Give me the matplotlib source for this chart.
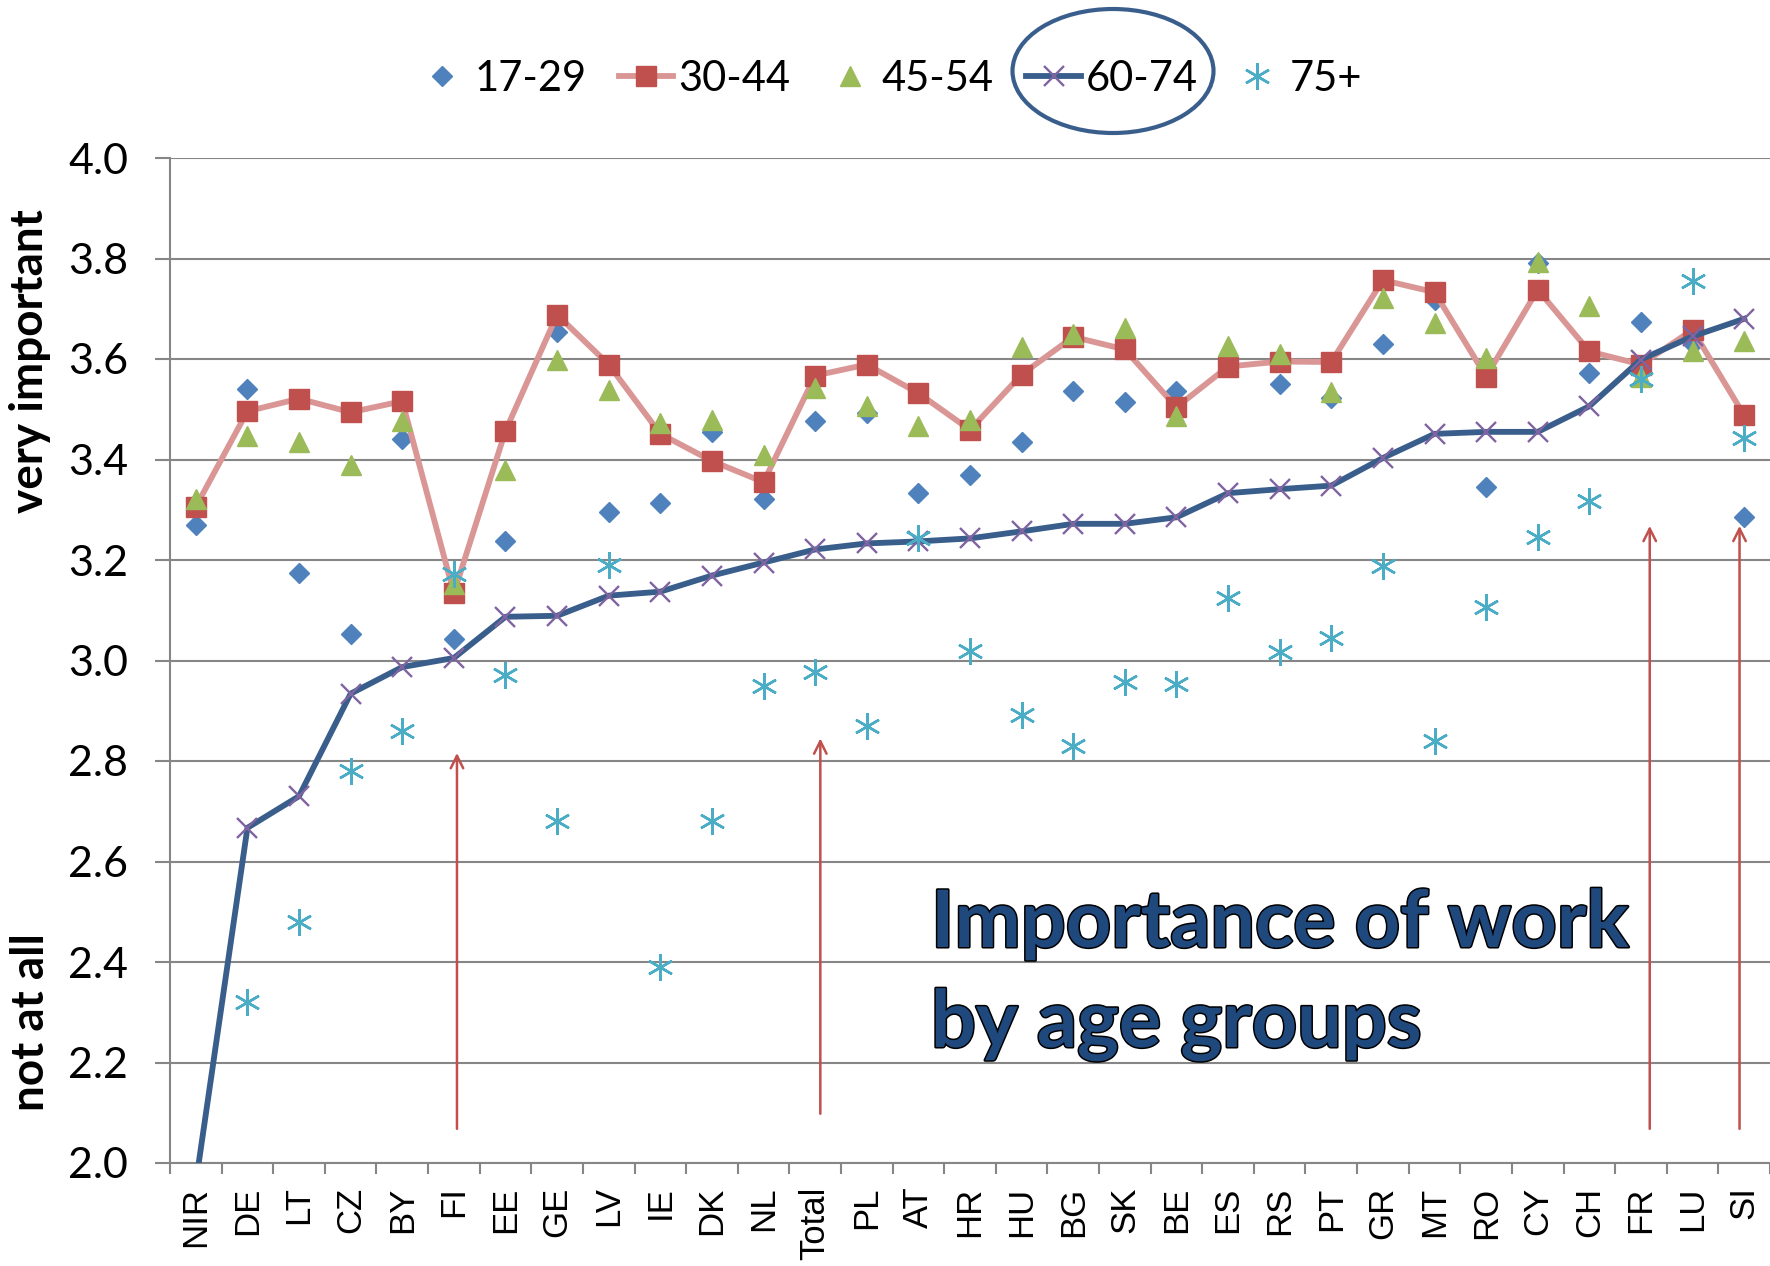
import matplotlib
matplotlib.use('Agg')
import matplotlib.pyplot as plt
import numpy as np
from matplotlib.lines import Line2D
from matplotlib.patches import Ellipse
import matplotlib.patheffects as pe

countries = ['NIR', 'DE', 'LT', 'CZ', 'BY', 'FI', 'EE', 'GE', 'LV', 'IE', 'DK', 'NL',
             'Total', 'PL', 'AT', 'HR', 'HU', 'BG', 'SK', 'BE', 'ES', 'RS', 'PT', 'GR',
             'MT', 'RO', 'CY', 'CH', 'FR', 'LU', 'SI']

age_17_29 = [3.27, 3.54, 3.175, 3.052, 3.441, 3.042, 3.238, 3.653, 3.296, 3.313, 3.455, 3.321,
             3.477, 3.492, 3.334, 3.369, 3.435, 3.537, 3.514, 3.537, 3.585, 3.551, 3.522, 3.629,
             3.718, 3.346, 3.791, 3.572, 3.673, 3.629, 3.286]
age_30_44 = [3.306, 3.496, 3.521, 3.494, 3.516, 3.134, 3.457, 3.688, 3.589, 3.451, 3.397, 3.355,
             3.567, 3.589, 3.532, 3.459, 3.569, 3.644, 3.619, 3.504, 3.585, 3.595, 3.594, 3.757,
             3.733, 3.565, 3.738, 3.615, 3.589, 3.658, 3.488]
age_45_54 = [3.321, 3.446, 3.434, 3.389, 3.476, 3.152, 3.380, 3.599, 3.539, 3.472, 3.479, 3.409,
             3.542, 3.506, 3.467, 3.478, 3.624, 3.649, 3.662, 3.486, 3.625, 3.609, 3.534, 3.722,
             3.672, 3.602, 3.793, 3.706, 3.565, 3.615, 3.635]
age_60_74 = [1.96, 2.667, 2.73, 2.934, 2.987, 3.005, 3.087, 3.089, 3.129, 3.137, 3.169, 3.195,
             3.221, 3.233, 3.237, 3.243, 3.257, 3.272, 3.272, 3.285, 3.333, 3.341, 3.348, 3.403,
             3.451, 3.455, 3.455, 3.506, 3.599, 3.645, 3.680]
age_75_plus = [np.nan, 2.32, 2.48, 2.78, 2.86, 3.173, 2.972, 2.68, 3.19, 2.39, 2.68, 2.949,
               2.977, 2.87, 3.243, 3.019, 2.891, 2.83, 2.958, 2.953, 3.125, 3.017, 3.044, 3.188,
               2.84, 3.106, 3.245, 3.318, 3.560, 3.755, 3.443]

series_labels = ['17-29', '30-44', '45-54', '60-74', '75+']

# annotation arrows: (category, bottom value, top value)
arrow_cats = ['FI', 'Total', 'FR', 'SI']
arrow_bottom = [2.068, 2.098, 2.068, 2.068]
arrow_top = [2.816, 2.845, 3.268, 3.268]
arrow_shift = [0.06, 0.1, 0.17, -0.09]

title_lines = ['Importance of work', 'by age groups']

C_BLUE = '#4F81BD'
C_RED = '#C0504D'
C_RED_LINE = '#D99694'
C_GREEN = '#9BBB59'
C_NAVY = '#3A5E8C'
C_PURPLE = '#8064A2'
C_CYAN = '#4BACC6'
C_GRID = '#868686'
ASTER = (6, 2, 0)
AST_MS = 19

fig = plt.figure(figsize=(17.7, 12.66), dpi=100)
ax = fig.add_axes([170 / 1770, 1 - 1163 / 1266, 1 - 170 / 1770, (1163 - 158) / 1266])

x = np.arange(len(countries))

ax.plot(x, age_17_29, ls='none', marker='D', ms=10.3, color=C_BLUE, mec=C_BLUE, zorder=3)
ax.plot(x, age_30_44, color=C_RED_LINE, lw=4.2, marker='s', ms=14, mfc=C_RED, mec=C_RED,
        solid_joinstyle='round', zorder=4)
ax.plot(x, age_45_54, ls='none', marker='^', ms=14.5, color=C_GREEN, mec=C_GREEN, zorder=5)
ax.plot(x, age_60_74, color=C_NAVY, lw=4.2, marker='x', ms=14, mec=C_PURPLE, mew=1.7,
        solid_joinstyle='round', zorder=6)
ax.plot(x, age_75_plus, ls='none', marker=ASTER, ms=AST_MS, mec=C_CYAN, mew=1.8, zorder=7)

for cat, b, t, s in zip(arrow_cats, arrow_bottom, arrow_top, arrow_shift):
    xi = countries.index(cat) + s
    ax.annotate('', xy=(xi, t), xytext=(xi, b),
                arrowprops=dict(arrowstyle='->,head_length=0.9,head_width=0.45',
                                color=C_RED, lw=1.8, shrinkA=0, shrinkB=0), zorder=8)

ax.set_xlim(-0.5, len(countries) - 0.5)
ax.set_ylim(2.0, 4.0)
ax.set_yticks(np.arange(2.0, 4.01, 0.2))
ax.set_yticklabels([f'{v:.1f}' for v in np.arange(2.0, 4.01, 0.2)],
                   fontfamily='Lato', fontsize=31)
ax.set_xticks(x)
ax.set_xticklabels(countries, rotation=90, fontfamily='Liberation Sans', fontsize=25,
                   va='top', ha='center')
ax.set_xticks(np.arange(-0.5, len(countries), 1.0), minor=True)
ax.tick_params(axis='x', which='major', length=0, pad=17)
ax.tick_params(axis='x', which='minor', length=8, width=1.5, color=C_GRID, direction='out')
ax.tick_params(axis='y', which='major', length=11, width=1.5, color=C_GRID, direction='out', pad=19)

ax.yaxis.grid(True, color=C_GRID, lw=1.5)
ax.set_axisbelow(True)
for side in ['top', 'right']:
    ax.spines[side].set_visible(False)
for side in ['left', 'bottom']:
    ax.spines[side].set_color(C_GRID)
    ax.spines[side].set_linewidth(1.5)

# axis labels
fig.text(30 / 1770, 1 - 361 / 1266, 'very important', rotation=90, ha='center', va='center',
         fontfamily='Lato', fontweight='bold', fontsize=33)
fig.text(31 / 1770, 1 - 1022 / 1266, 'not at all', rotation=90, ha='center', va='center',
         fontfamily='Lato', fontweight='bold', fontsize=33)

# legend
handles = [
    Line2D([], [], ls='none', marker='D', ms=10.3, color=C_BLUE),
    Line2D([], [], color=C_RED_LINE, lw=4.2, marker='s', ms=14, mfc=C_RED, mec=C_RED),
    Line2D([], [], ls='none', marker='^', ms=14.5, color=C_GREEN),
    Line2D([], [], color=C_NAVY, lw=4.2, marker='x', ms=14, mec=C_PURPLE, mew=1.7),
    Line2D([], [], ls='none', marker=ASTER, ms=AST_MS, mec=C_CYAN, mew=1.8),
]
fig.legend(handles, series_labels, loc='center', bbox_to_anchor=(0.502, 1 - 79 / 1266),
           ncol=5, frameon=False, prop={'family': 'Lato', 'size': 30},
           handlelength=1.3, handletextpad=0.12, columnspacing=0.78)

ell = Ellipse((1113 / 1770, 1 - 71 / 1266), 201 / 1770, 124 / 1266,
              transform=fig.transFigure, fill=False, ec='#3A5E8C', lw=3)
fig.patches.append(ell)

# big title text
title_effects = [pe.Stroke(linewidth=2.2, foreground='black'), pe.Normal()]
fig.text(931 / 1770, 1 - 947 / 1266, title_lines[0], ha='left', va='baseline',
         fontfamily='Lato', fontweight='bold', fontsize=57, color='#1F497D',
         path_effects=title_effects)
fig.text(931 / 1770, 1 - 1047 / 1266, title_lines[1], ha='left', va='baseline',
         fontfamily='Lato', fontweight='bold', fontsize=57, color='#1F497D',
         path_effects=title_effects)

fig.savefig('out.png', dpi=100)
